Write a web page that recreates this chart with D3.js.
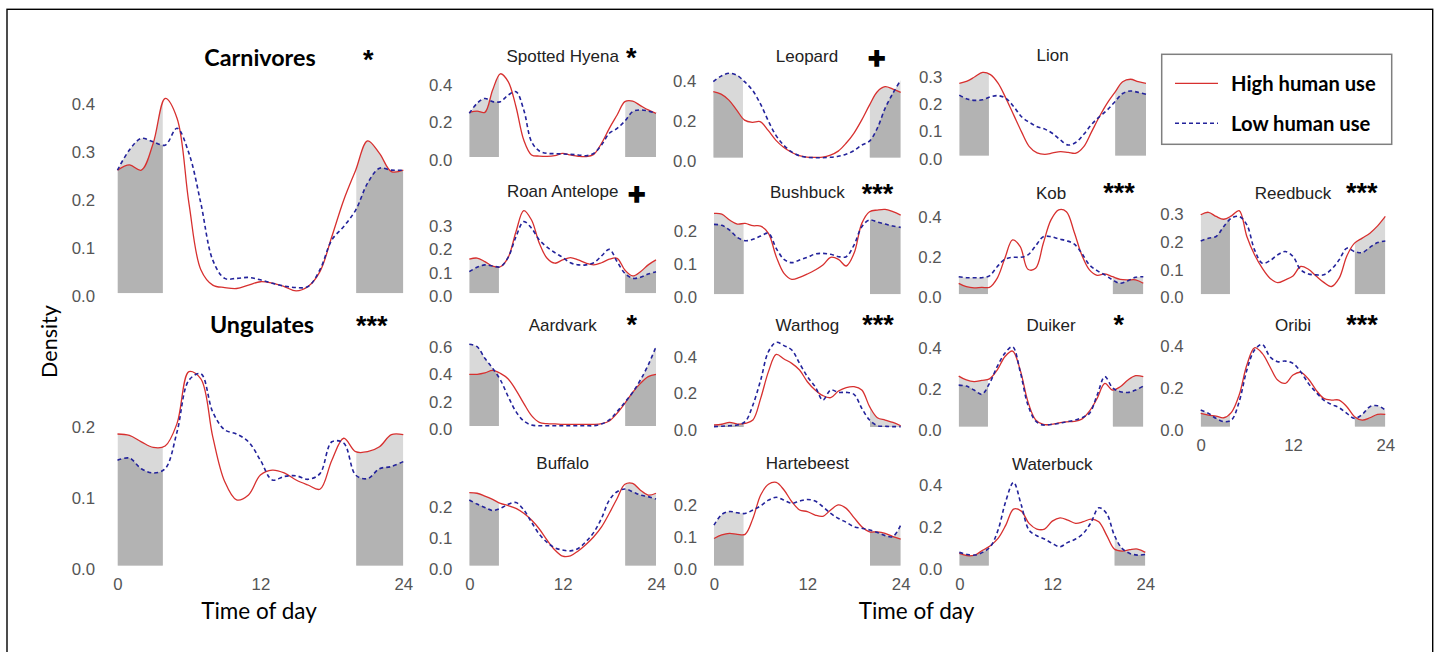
<!DOCTYPE html>
<html><head><meta charset="utf-8">
<script src="https://cdn.jsdelivr.net/npm/d3@7"></script>
<style>body{margin:0;background:#fff}svg{display:block}</style>
</head><body>
<svg id="chart" width="1437" height="652"></svg>
<script>
// ---------- DATA ----------
const hours = [0,1,2,3,4,5,6,7,8,9,10,11,12,13,14,15,16,17,18,19,20,21,22,23,24];
const nightBands = [[0,3.8],[20.05,24]];
const xTicks = [0,12,24];
const legendLabels = ["High human use","Low human use"];

const carnivoresHigh = [0.256,0.267,0.256,0.312,0.405,0.364,0.187,0.049,0.017,0.012,0.010,0.017,0.024,0.021,0.014,0.005,0.014,0.045,0.118,0.194,0.256,0.317,0.291,0.253,0.256];
const carnivoresLow  = [0.256,0.298,0.322,0.315,0.308,0.343,0.291,0.187,0.069,0.031,0.031,0.033,0.028,0.021,0.015,0.012,0.014,0.049,0.111,0.139,0.173,0.229,0.260,0.256,0.256];
const ungulatesHigh  = [0.186,0.184,0.175,0.167,0.169,0.201,0.274,0.264,0.182,0.119,0.093,0.100,0.128,0.135,0.131,0.121,0.114,0.108,0.149,0.180,0.161,0.161,0.168,0.185,0.185];
const ungulatesLow   = [0.149,0.152,0.137,0.131,0.137,0.189,0.262,0.271,0.217,0.192,0.186,0.175,0.149,0.121,0.126,0.127,0.122,0.130,0.175,0.173,0.128,0.123,0.137,0.140,0.147];
const hyenaHigh      = [0.237,0.244,0.237,0.356,0.442,0.400,0.267,0.090,0.011,0.005,0.003,0.007,0.019,0.011,0.004,0.002,0.014,0.073,0.152,0.223,0.294,0.297,0.273,0.250,0.232];
const hyenaLow       = [0.232,0.285,0.311,0.294,0.294,0.329,0.347,0.250,0.081,0.032,0.019,0.018,0.016,0.014,0.011,0.007,0.019,0.064,0.126,0.152,0.191,0.241,0.250,0.244,0.232];
const leopardHigh    = [0.330,0.318,0.288,0.238,0.188,0.177,0.180,0.138,0.088,0.052,0.027,0.010,0.003,0.002,0.003,0.013,0.033,0.072,0.122,0.188,0.263,0.330,0.355,0.343,0.327];
const leopardLow     = [0.380,0.408,0.422,0.413,0.380,0.338,0.272,0.188,0.113,0.063,0.030,0.010,0.002,0.000,0.000,0.002,0.007,0.017,0.035,0.063,0.083,0.147,0.247,0.322,0.388];
const lionHigh       = [0.264,0.272,0.288,0.304,0.296,0.264,0.209,0.148,0.087,0.033,0.010,0.005,0.010,0.015,0.012,0.009,0.033,0.087,0.142,0.191,0.231,0.270,0.279,0.270,0.264];
const lionLow        = [0.221,0.207,0.202,0.204,0.215,0.219,0.209,0.179,0.142,0.122,0.106,0.097,0.081,0.057,0.039,0.049,0.078,0.114,0.142,0.166,0.197,0.227,0.236,0.231,0.224];
const roanHigh       = [0.145,0.150,0.135,0.116,0.113,0.153,0.262,0.352,0.312,0.213,0.149,0.128,0.142,0.152,0.142,0.128,0.121,0.130,0.145,0.149,0.099,0.074,0.092,0.121,0.142];
const roanLow        = [0.092,0.111,0.121,0.116,0.113,0.153,0.241,0.305,0.277,0.227,0.196,0.173,0.153,0.130,0.121,0.121,0.130,0.159,0.187,0.135,0.085,0.064,0.068,0.082,0.092];
const bushbuckHigh   = [0.243,0.241,0.223,0.211,0.213,0.206,0.205,0.183,0.113,0.063,0.045,0.051,0.061,0.073,0.088,0.111,0.105,0.085,0.123,0.213,0.248,0.253,0.255,0.248,0.238];
const bushbuckLow    = [0.210,0.207,0.193,0.171,0.161,0.165,0.175,0.183,0.138,0.105,0.095,0.103,0.111,0.121,0.123,0.120,0.113,0.113,0.148,0.203,0.223,0.217,0.211,0.205,0.201];
const kobHigh        = [0.055,0.038,0.032,0.035,0.035,0.080,0.180,0.272,0.238,0.125,0.130,0.255,0.372,0.422,0.413,0.313,0.197,0.122,0.095,0.102,0.088,0.075,0.072,0.072,0.055];
const kobLow         = [0.088,0.083,0.083,0.083,0.092,0.138,0.175,0.185,0.185,0.197,0.242,0.288,0.288,0.277,0.268,0.252,0.205,0.147,0.118,0.097,0.072,0.055,0.068,0.085,0.088];
const reedbuckHigh   = [0.286,0.295,0.280,0.270,0.282,0.301,0.208,0.142,0.094,0.058,0.042,0.052,0.066,0.100,0.090,0.066,0.043,0.028,0.058,0.138,0.184,0.202,0.220,0.246,0.280];
const reedbuckLow    = [0.192,0.202,0.208,0.244,0.274,0.280,0.250,0.160,0.112,0.121,0.142,0.154,0.136,0.088,0.073,0.070,0.070,0.090,0.124,0.166,0.154,0.150,0.169,0.186,0.192];
const aardvarkHigh   = [0.378,0.378,0.388,0.407,0.385,0.344,0.263,0.166,0.076,0.027,0.017,0.015,0.012,0.012,0.012,0.012,0.012,0.017,0.037,0.093,0.166,0.246,0.312,0.361,0.378];
const aardvarkLow    = [0.598,0.580,0.495,0.422,0.337,0.215,0.105,0.037,0.007,0.002,0.002,0.002,0.002,0.002,0.002,0.002,0.002,0.015,0.044,0.105,0.173,0.246,0.337,0.446,0.580];
const warthogHigh    = [0.011,0.015,0.025,0.016,0.020,0.038,0.156,0.302,0.396,0.371,0.347,0.311,0.247,0.202,0.171,0.160,0.196,0.215,0.220,0.202,0.111,0.051,0.038,0.025,0.007];
const warthogLow     = [0.002,0.004,0.007,0.011,0.029,0.120,0.256,0.411,0.462,0.444,0.420,0.347,0.275,0.220,0.147,0.202,0.189,0.189,0.178,0.102,0.038,0.007,0.004,0.002,0.002];
const duikerHigh     = [0.247,0.228,0.220,0.226,0.233,0.276,0.341,0.369,0.276,0.122,0.033,0.011,0.011,0.018,0.024,0.026,0.037,0.076,0.138,0.211,0.179,0.195,0.228,0.249,0.244];
const duikerLow      = [0.203,0.198,0.179,0.158,0.211,0.293,0.358,0.390,0.268,0.106,0.028,0.008,0.011,0.016,0.024,0.031,0.044,0.065,0.154,0.244,0.190,0.171,0.167,0.179,0.198];
const oribiHigh      = [0.064,0.056,0.051,0.043,0.069,0.152,0.296,0.379,0.352,0.288,0.224,0.208,0.248,0.261,0.229,0.176,0.136,0.128,0.128,0.096,0.048,0.032,0.043,0.059,0.059];
const oribiLow       = [0.080,0.064,0.040,0.024,0.032,0.120,0.272,0.368,0.395,0.336,0.312,0.315,0.304,0.264,0.208,0.165,0.128,0.107,0.091,0.064,0.040,0.059,0.096,0.101,0.080];
const buffaloHigh    = [0.237,0.235,0.226,0.215,0.202,0.195,0.186,0.170,0.148,0.119,0.083,0.051,0.031,0.032,0.048,0.069,0.094,0.126,0.170,0.218,0.264,0.267,0.245,0.229,0.235];
const buffaloLow     = [0.213,0.200,0.189,0.179,0.186,0.199,0.205,0.181,0.141,0.102,0.076,0.058,0.051,0.048,0.056,0.078,0.108,0.154,0.213,0.240,0.249,0.240,0.229,0.224,0.216];
const hartebeestHigh = [0.086,0.097,0.102,0.099,0.099,0.149,0.223,0.257,0.263,0.239,0.202,0.176,0.171,0.160,0.156,0.176,0.192,0.181,0.152,0.123,0.107,0.107,0.102,0.092,0.084];
const hartebeestLow  = [0.128,0.162,0.171,0.167,0.165,0.176,0.189,0.207,0.216,0.207,0.197,0.204,0.209,0.204,0.186,0.165,0.149,0.137,0.123,0.118,0.113,0.105,0.095,0.092,0.128];
const waterbuckHigh  = [0.059,0.048,0.051,0.074,0.096,0.131,0.195,0.272,0.262,0.203,0.176,0.176,0.214,0.230,0.219,0.203,0.211,0.224,0.211,0.147,0.080,0.070,0.077,0.080,0.064];
const waterbuckLow   = [0.064,0.054,0.051,0.064,0.091,0.171,0.310,0.400,0.291,0.171,0.144,0.128,0.107,0.091,0.112,0.128,0.155,0.208,0.278,0.251,0.147,0.083,0.059,0.051,0.054];

// ---------- LAYOUT ----------
const panels = [
  {title:"Carnivores", sig:"*",   high:carnivoresHigh, low:carnivoresLow, big:true, x0:117.5,x1:403.3,y0:293.3,ppu:481,ticks:[0,0.1,0.2,0.3,0.4],tx:260,ty:66,sx:368.3,sy:55.8,xAxis:false},
  {title:"Ungulates",  sig:"***", high:ungulatesHigh,  low:ungulatesLow,  big:true, x0:117.5,x1:403.3,y0:565.7,ppu:708,ticks:[0,0.1,0.2],tx:262,ty:333,sx:371.7,sy:321.7,xAxis:true},
  {title:"Spotted Hyena", sig:"*", high:hyenaHigh, low:hyenaLow, x0:469.3,x1:656,y0:157,ppu:188.3,ticks:[0,0.2,0.4],ty:62,sx:631.3,sy:53.7},
  {title:"Leopard", sig:"+", high:leopardHigh, low:leopardLow, x0:713.3,x1:900.7,y0:157.7,ppu:200,ticks:[0,0.2,0.4],ty:62,sx:876.7,sy:58.3},
  {title:"Lion", sig:"", high:lionHigh, low:lionLow, x0:959.3,x1:1146,y0:155.7,ppu:274,ticks:[0,0.1,0.2,0.3],ty:61},
  {title:"Roan Antelope", sig:"+", high:roanHigh, low:roanLow, x0:469.3,x1:656,y0:293.3,ppu:235,ticks:[0,0.1,0.2,0.3],ty:197,sx:636.7,sy:194},
  {title:"Bushbuck", sig:"***", high:bushbuckHigh, low:bushbuckLow, x0:714,x1:900.7,y0:294.3,ppu:333,ticks:[0,0.1,0.2],ty:198,sx:877.5,sy:189.2},
  {title:"Kob", sig:"***", high:kobHigh, low:kobLow, x0:958.7,x1:1143.3,y0:294.3,ppu:200,ticks:[0,0.2,0.4],ty:198.5,sx:1119,sy:188.7},
  {title:"Reedbuck", sig:"***", high:reedbuckHigh, low:reedbuckLow, x0:1200.7,x1:1385.3,y0:294.3,ppu:278,ticks:[0,0.1,0.2,0.3],ty:198.5,sx:1361.7,sy:188.7},
  {title:"Aardvark", sig:"*", high:aardvarkHigh, low:aardvarkLow, x0:469.3,x1:656,y0:426,ppu:136.7,ticks:[0,0.2,0.4,0.6],ty:331,sx:631.7,sy:320.8},
  {title:"Warthog", sig:"***", high:warthogHigh, low:warthogLow, x0:714,x1:900.7,y0:427,ppu:183.3,ticks:[0,0.2,0.4],ty:331,sx:878,sy:320.8},
  {title:"Duiker", sig:"*", high:duikerHigh, low:duikerLow, x0:958.7,x1:1143.3,y0:426.7,ppu:205,ticks:[0,0.2,0.4],ty:331,sx:1118.7,sy:320.8},
  {title:"Oribi", sig:"***", high:oribiHigh, low:oribiLow, x0:1200.7,x1:1385.3,y0:426.7,ppu:208.3,ticks:[0,0.2,0.4],ty:331,sx:1362,sy:320.8,xAxis:true},
  {title:"Buffalo", sig:"", high:buffaloHigh, low:buffaloLow, x0:469.3,x1:656,y0:565.7,ppu:308.3,ticks:[0,0.1,0.2],ty:469.3,xAxis:true},
  {title:"Hartebeest", sig:"", high:hartebeestHigh, low:hartebeestLow, x0:714,x1:900.7,y0:565.7,ppu:316.7,ticks:[0,0.1,0.2],ty:469.3,xAxis:true},
  {title:"Waterbuck", sig:"", high:waterbuckHigh, low:waterbuckLow, x0:959.3,x1:1145.3,y0:565.7,ppu:208.3,ticks:[0,0.2,0.4],ty:470,xAxis:true}
];

const RED = "#d7302f", BLUE = "#23239b", DARK = "#b3b3b3", LIGHT = "#d9d9d9";
const svg = d3.select("#chart");
const defs = svg.append("defs");

// outer frame
svg.append("rect").attr("x",7).attr("y",9.3).attr("width",1425.7).attr("height",700)
  .attr("fill","none").attr("stroke","#000").attr("stroke-width",1.4);

const curve = d3.curveCatmullRom.alpha(0.5);

panels.forEach((p, i) => {
  const x = d3.scaleLinear().domain([0,24]).range([p.x0, p.x1]);
  const y = d3.scaleLinear().domain([0,1]).range([p.y0, p.y0 - p.ppu]);
  const hi = hours.map((h,k) => [h, p.high[k]]);
  const lo = hours.map((h,k) => [h, p.low[k]]);
  const area = d3.area().x(d => x(d[0])).y0(y(0)).y1(d => y(d[1])).curve(curve);
  const line = d3.line().x(d => x(d[0])).y(d => y(d[1])).curve(curve);

  const nightId = "night" + i, lowId = "low" + i;
  const cpN = defs.append("clipPath").attr("id", nightId);
  nightBands.forEach(b => cpN.append("rect")
    .attr("x", x(b[0])).attr("width", x(b[1]) - x(b[0]))
    .attr("y", y(0) - 300).attr("height", 300));
  defs.append("clipPath").attr("id", lowId).append("path").attr("d", area(lo));

  const g = svg.append("g");
  const shade = g.append("g").attr("clip-path", `url(#${nightId})`);
  shade.append("path").attr("d", area(hi)).attr("fill", LIGHT);
  shade.append("path").attr("d", area(lo)).attr("fill", LIGHT);
  shade.append("path").attr("d", area(hi)).attr("fill", DARK).attr("clip-path", `url(#${lowId})`);

  g.append("path").attr("d", line(hi)).attr("fill","none").attr("stroke",RED).attr("stroke-width",1.3);
  g.append("path").attr("d", line(lo)).attr("fill","none").attr("stroke",BLUE).attr("stroke-width",1.6)
    .attr("stroke-dasharray","4,3");

  // y axis
  const pad = p.big ? 22.5 : 17;
  const ya = g.append("g").attr("transform", `translate(${p.x0},0)`)
    .call(d3.axisLeft(y).tickValues(p.ticks).tickFormat(d3.format(".1f")).tickSize(0).tickPadding(pad));
  ya.select(".domain").remove();
  ya.selectAll("text").attr("font-family","'Liberation Sans', Arial, sans-serif")
    .attr("font-size",16.8).attr("fill","#555").attr("y",3.2);

  if (p.xAxis) {
    const xa = g.append("g").attr("transform", `translate(0,${p.y0})`)
      .call(d3.axisBottom(x).tickValues(xTicks).tickFormat(d3.format("d")).tickSize(0).tickPadding(12.8));
    xa.select(".domain").remove();
    xa.selectAll("text").attr("font-family","'Liberation Sans', Arial, sans-serif")
      .attr("font-size",16.8).attr("fill","#555");
  }

  // title
  if (p.big) {
    g.append("text").attr("x", p.tx).attr("y", p.ty).attr("text-anchor","middle")
      .attr("font-family","Lato, sans-serif").attr("font-weight","bold").attr("font-size",23.3)
      .attr("fill","#000").text(p.title);
  } else {
    g.append("text").attr("x", (p.x0 + p.x1) / 2).attr("y", p.ty).attr("text-anchor","middle")
      .attr("font-family","'Liberation Sans', Arial, sans-serif").attr("font-size",17)
      .attr("fill","#222").text(p.title);
  }
  // significance marker
  if (p.sig === "+") {
    g.append("text").attr("x", p.sx).attr("y", p.sy + 10).attr("text-anchor","middle")
      .attr("font-family","'Liberation Sans', Arial, sans-serif").attr("font-weight","bold")
      .attr("font-size",29).attr("fill","#000").attr("stroke","#000").attr("stroke-width",1.6).text("+");
  } else if (p.sig) {
    g.append("text").attr("x", p.sx).attr("y", p.sy + 13.5).attr("text-anchor","middle")
      .attr("font-family","'Liberation Sans', Arial, sans-serif").attr("font-weight","bold")
      .attr("font-size",27).attr("fill","#000").text(p.sig);
  }
});

// axis titles
svg.append("text").attr("x",259).attr("y",619).attr("text-anchor","middle")
  .attr("font-family","Lato, sans-serif").attr("font-size",22.5).attr("fill","#000").text("Time of day");
svg.append("text").attr("x",916.5).attr("y",619).attr("text-anchor","middle")
  .attr("font-family","Lato, sans-serif").attr("font-size",22.5).attr("fill","#000").text("Time of day");
svg.append("text").attr("transform","translate(57.3,341.5) rotate(-90)").attr("text-anchor","middle")
  .attr("font-family","Lato, sans-serif").attr("font-size",21.5).attr("fill","#000").text("Density");

// legend
const lg = svg.append("g");
lg.append("rect").attr("x",1161.7).attr("y",54.3).attr("width",230).attr("height",90)
  .attr("fill","#fff").attr("stroke","#7f7f7f").attr("stroke-width",1.5);
const legendItems = [{label:legendLabels[0], color:RED, dash:null, w:1.3, yy:83.3},
                     {label:legendLabels[1], color:BLUE, dash:"4,3", w:1.6, yy:123.3}];
legendItems.forEach(it => {
  lg.append("line").attr("x1",1175).attr("x2",1218).attr("y1",it.yy).attr("y2",it.yy)
    .attr("stroke",it.color).attr("stroke-width",it.w).attr("stroke-dasharray",it.dash);
  lg.append("text").attr("x",1231).attr("y",it.yy).attr("dominant-baseline","central")
    .attr("font-family","Lato, sans-serif").attr("font-weight","bold").attr("font-size",20.2)
    .attr("fill","#000").text(it.label);
});
</script>
</body></html>
